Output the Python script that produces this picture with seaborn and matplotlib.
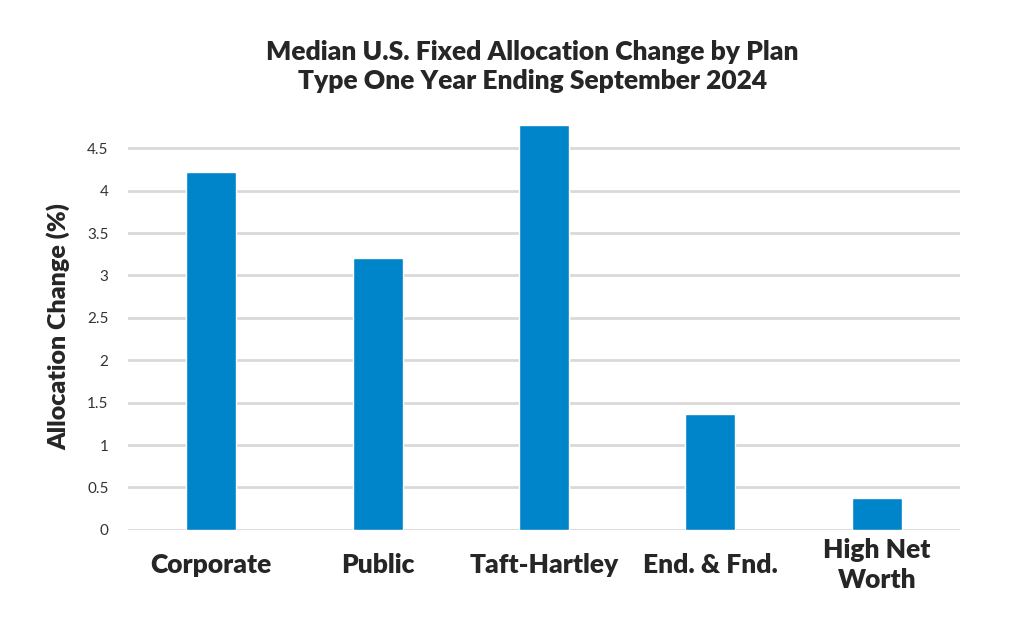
import pandas as pd
import matplotlib.pyplot as plt
import seaborn as sns

# data
plan_types = ['Corporate', 'Public', 'Taft-Hartley', 'End. & Fnd.', 'High Net\nWorth']
alloc_change = [4.22, 3.21, 4.77, 1.37, 0.37]
y_ticks = [0, 0.5, 1, 1.5, 2, 2.5, 3, 3.5, 4, 4.5]
y_tick_labels = ['0', '0.5', '1', '1.5', '2', '2.5', '3', '3.5', '4', '4.5']

df = pd.DataFrame({'plan': plan_types, 'change': alloc_change})

sns.set_style('white')
plt.rcParams['font.family'] = ['Lato', 'DejaVu Sans']

fig = plt.figure(figsize=(10.24, 6.33), dpi=100)
ax = fig.add_axes([0.125, 0.163, 0.8125, 0.643])

sns.barplot(data=df, x='plan', y='change', color='#0085CA', saturation=1, width=0.3, ax=ax, zorder=3)

ax.set_ylim(0, 4.8)
ax.set_xlim(-0.5, 4.5)
ax.set_yticks(y_ticks)
ax.set_yticklabels(y_tick_labels, fontsize=11, color='#333333')
ax.yaxis.grid(True, color='#d9d9d9', linewidth=2)
ax.set_axisbelow(True)
for s in ax.spines.values():
    s.set_visible(False)
ax.tick_params(axis='both', length=0)
ax.tick_params(axis='y', pad=14)
ax.tick_params(axis='x', pad=25)
for lbl in ax.get_xticklabels():
    lbl.set_fontsize(19)
    lbl.set_fontweight('heavy')
    lbl.set_linespacing(1.3)
    lbl.set_verticalalignment('center')

ax.set_xlabel('')
ax.set_ylabel('Allocation Change (%)', fontsize=18, fontweight='heavy', labelpad=12)

fig.text(0.52, 0.895, 'Median U.S. Fixed Allocation Change by Plan\nType One Year Ending September 2024',
         ha='center', va='center', fontsize=19, fontweight='heavy', linespacing=1.25)

fig.savefig('out.png', dpi=100, facecolor='white')
